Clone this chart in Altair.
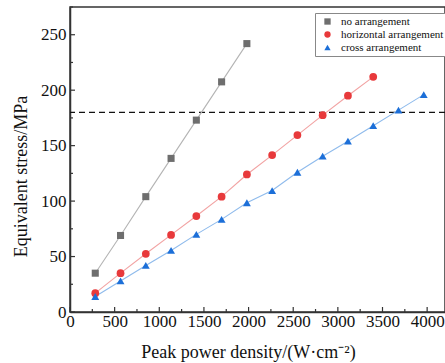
import altair as alt
import pandas as pd

step = 283
no_x = [step * k for k in range(1, 8)]
no_y = [35, 69, 104, 138.5, 173, 207.5, 242]
hor_x = [step * k for k in range(1, 13)]
hor_y = [17, 35, 52.5, 69.5, 86.5, 104, 124, 141.5, 159.5, 177.5, 195, 212]
cro_x = [step * k for k in range(1, 15)]
cro_y = [14, 28, 42, 55.5, 70, 83.5, 98.5, 109.5, 126, 140.5, 154, 168, 182, 196]

series = ["no arrangement", "horizontal arrangement", "cross arrangement"]
marker_colors = ["#6e6e6e", "#e8393b", "#1c6fd8"]
line_colors = ["#b4b4b4", "#f2a3a3", "#8fbbec"]
shapes = ["square", "circle", "triangle-up"]
sizes = [50, 60, 62]

threshold = [180]
x_major = list(range(0, 4001, 500))
x_minor = list(range(250, 4200, 500))
y_major = list(range(0, 251, 50))
y_minor = list(range(25, 276, 50))

rows = []
for name, xs, ys in zip(series, [no_x, hor_x, cro_x], [no_y, hor_y, cro_y]):
    for a, b in zip(xs, ys):
        rows.append({"series": name, "x": a, "y": b})
df = pd.DataFrame(rows)

W, H = 375, 305
FONT = "Liberation Serif"
xs = alt.Scale(domain=[0, 4200], nice=False, zero=False)
ys = alt.Scale(domain=[0, 275], nice=False, zero=False)

xaxis = alt.Axis(values=x_major, format="d", ticks=False, labelFont=FONT, labelFontSize=17,
                 labelColor="#111", labelPadding=1, domainColor="#333", domainWidth=1.5,
                 grid=False, title="Peak power density/(W·cm⁻²)", titleFont=FONT,
                 titleFontSize=18, titleFontWeight="normal", titleColor="#111",
                 titleX=178, titleY=40, titleBaseline="middle", labelFlush=False)
yaxis = alt.Axis(values=y_major, format="d", ticks=False, labelFont=FONT, labelFontSize=17,
                 labelColor="#111", labelPadding=4, domainColor="#333", domainWidth=1.5,
                 grid=False, title="Equivalent stress/MPa", titleFont=FONT,
                 titleFontSize=18, titleFontWeight="normal", titleColor="#111",
                 titleX=-49, titleY=169, titleAngle=-90, titleBaseline="middle", labelFlush=False)

lines = alt.Chart(df).mark_line(strokeWidth=1.1).encode(
    x=alt.X("x:Q", scale=xs, axis=xaxis),
    y=alt.Y("y:Q", scale=ys, axis=yaxis),
    color=alt.Color("series:N", scale=alt.Scale(domain=series, range=line_colors), legend=None),
    detail="series:N",
)

leg = alt.Legend(title=None, orient="none", legendX=245, legendY=6,
                 labelFont=FONT, labelFontSize=11, labelColor="#111", labelLimit=300,
                 strokeColor="#888", padding=3, rowPadding=1,
                 symbolOffset=4, labelOffset=8, fillColor="white",
                 symbolStrokeWidth=0, symbolSize=40)

shape_scale = alt.Scale(domain=series, range=shapes)
fill_scale = alt.Scale(domain=series, range=marker_colors)

point_layers = []
for name, sz in zip(series, sizes):
    point_layers.append(
        alt.Chart(df).transform_filter(alt.datum.series == name)
        .mark_point(filled=True, opacity=1, strokeWidth=0, size=sz).encode(
            x=alt.X("x:Q", scale=xs),
            y=alt.Y("y:Q", scale=ys),
            shape=alt.Shape("series:N", scale=shape_scale, legend=leg),
            fill=alt.Fill("series:N", scale=fill_scale, legend=leg),
        )
    )

dash = alt.Chart(pd.DataFrame({"t": threshold})).mark_rule(
    color="#111", strokeDash=[6, 4], strokeWidth=1.3
).encode(y=alt.Y("t:Q", scale=ys))

xt = alt.Chart(pd.DataFrame({"v": x_major})).mark_rule(color="#333", strokeWidth=1.2).encode(
    x=alt.X("v:Q", scale=xs), y=alt.value(H), y2=alt.value(H - 5))
xtm = alt.Chart(pd.DataFrame({"v": x_minor})).mark_rule(color="#333", strokeWidth=1.2).encode(
    x=alt.X("v:Q", scale=xs), y=alt.value(H), y2=alt.value(H - 3))
yt = alt.Chart(pd.DataFrame({"v": y_major})).mark_rule(color="#333", strokeWidth=1.2).encode(
    y=alt.Y("v:Q", scale=ys), x=alt.value(0), x2=alt.value(5))
ytm = alt.Chart(pd.DataFrame({"v": y_minor})).mark_rule(color="#333", strokeWidth=1.2).encode(
    y=alt.Y("v:Q", scale=ys), x=alt.value(0), x2=alt.value(3))

chart = alt.layer(xt, xtm, yt, ytm, dash, lines, *point_layers).resolve_scale(
    color="independent"
).properties(
    width=W, height=H,
    autosize=alt.AutoSizeParams(type="none"),
    padding={"left": 70, "top": 7, "right": 0, "bottom": 51},
    background="white",
).configure_view(stroke="#333", strokeWidth=1.5).configure_axis(
    labelFont=FONT, titleFont=FONT
).configure_legend(labelFont=FONT)

chart.save("out.html", embed_options={"renderer": "svg", "actions": False})
